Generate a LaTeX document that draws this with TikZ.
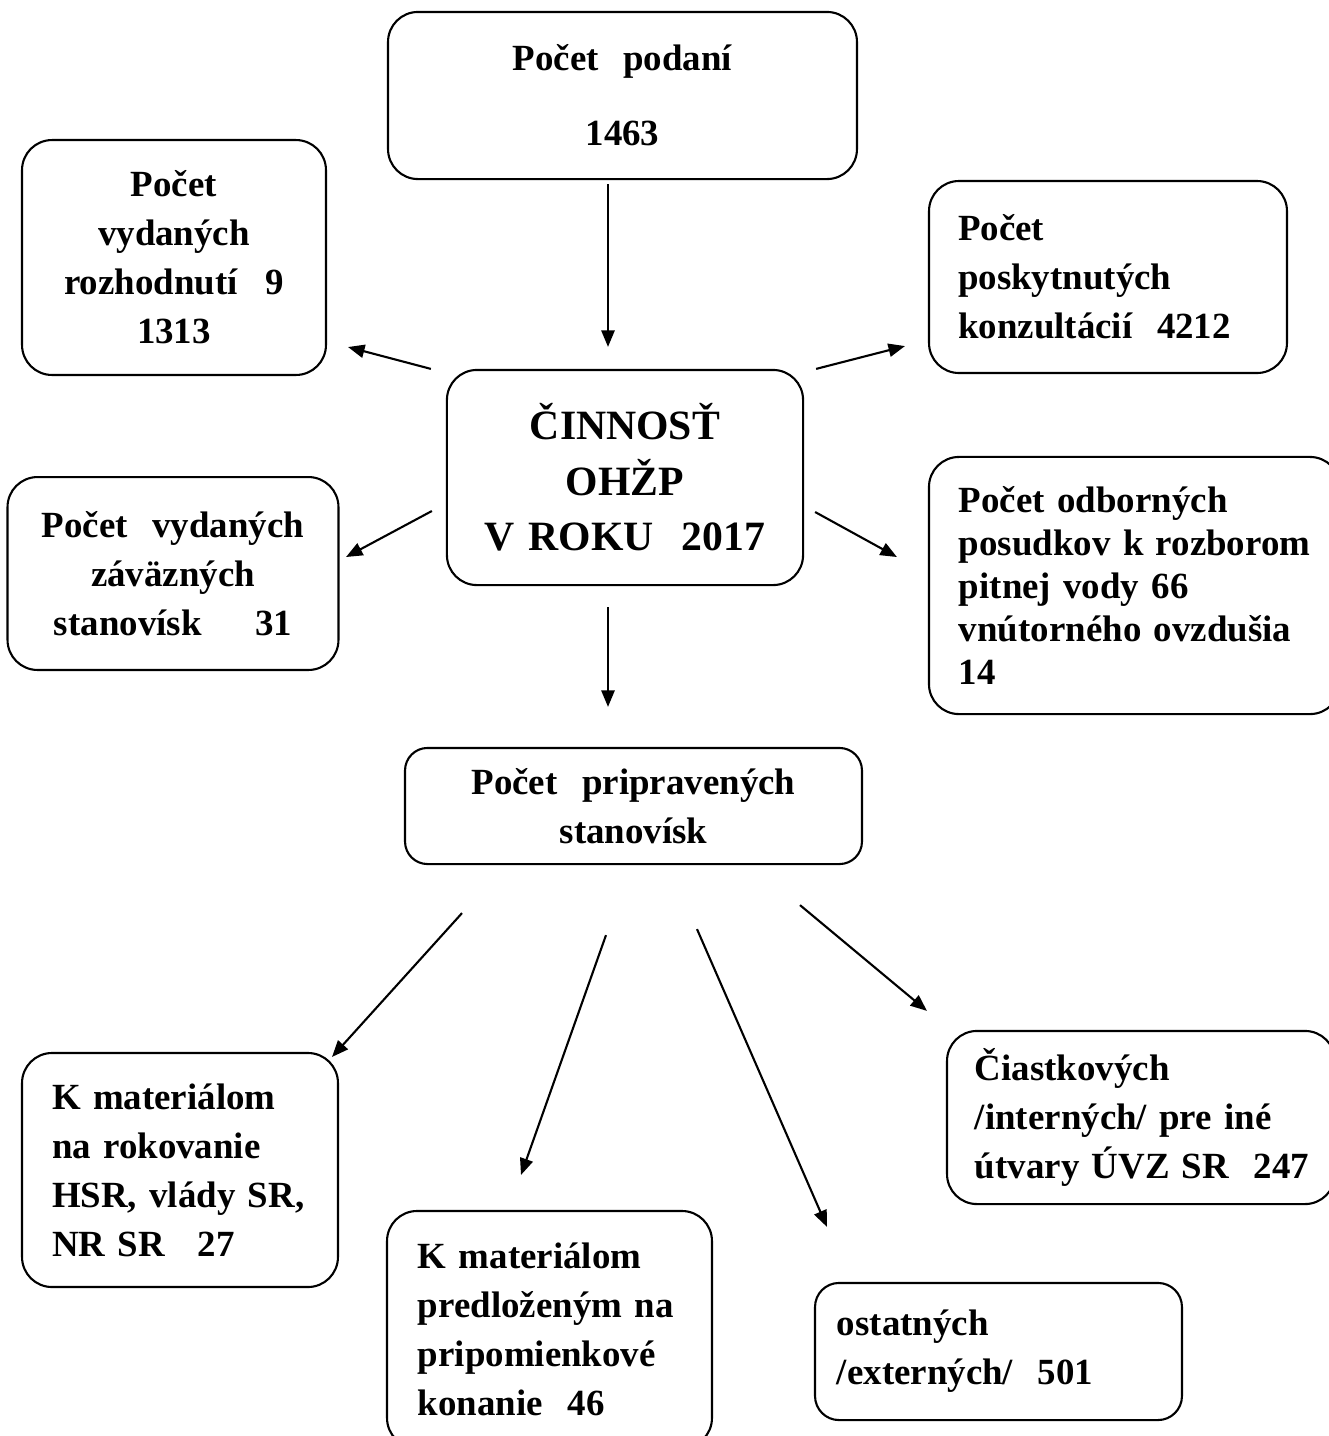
\documentclass[tikz,border=0pt]{standalone}
\usepackage{fontspec}
\setmainfont{Liberation Serif}
\usetikzlibrary{arrows.meta,calc}

\begin{document}
\begin{tikzpicture}[x=0.3333pt, y=-0.3333pt,
  font=\bfseries\fontsize{12.3}{16.3}\selectfont,
  box/.style={draw,line width=0.7pt,rounded corners=10pt,inner ysep=0pt,align=left},
  cbox/.style={box,align=center,inner xsep=6pt},
  arr/.style={-{Triangle[length=5.5pt,width=4.4pt]},line width=0.7pt}]

  \useasboundingbox (0,0) rectangle (1329,1436);

  \node[cbox,text width=144.3pt,minimum height=55.7pt] (podani) at (622.5,95.5)
    {Počet\ \ podaní\\[8.7pt]1463};
  \node[cbox,text width=89.3pt,minimum height=78.3pt] (rozh) at (174,257.5)
    {Počet\\vydaných\\rozhodnutí\hspace{0.75em}9\\1313};
  \node[box,text width=99.9pt,inner xsep=9.7pt,minimum height=64pt] (konz) at (1108,277)
    {Počet\\poskytnutých\\konzultácií\ \ 4212};
  \node[cbox,text width=106.7pt,minimum height=71.7pt,
        font=\bfseries\fontsize{13.9}{18.5}\selectfont] (cinnost) at (625,477.5)
    {ČINNOSŤ\\OHŽP\\V ROKU\ \ 2017};
  \node[cbox,text width=98.3pt,minimum height=64.3pt] (zav) at (173,573.5)
    {Počet\ \ vydaných\\záväzných\\stanovísk\hspace{1.45em}31};
  \node[box,text width=117pt,inner xsep=10pt,minimum height=85.7pt,
        font=\bfseries\fontsize{12.3}{14.3}\selectfont] (posudky) at (1134.5,585.5)
    {Počet odborných\\\mbox{posudkov k rozborom}\\pitnej vody 66\\vnútorného ovzdušia\\14};
  \node[cbox,text width=140.3pt,minimum height=38.7pt,rounded corners=7.5pt] (prip) at (633.5,806)
    {Počet\ \ pripravených\\stanovísk};

  \node[box,text width=85.3pt,inner xsep=10pt,minimum height=78pt] (kmat) at (180,1170)
    {K materiálom\\na rokovanie\\HSR, vlády SR,\\NR SR\hspace{0.9em}27};
  \node[box,text width=87.7pt,inner xsep=10.3pt,minimum height=79pt] (predl) at (549.5,1329.5)
    {K materiálom\\predloženým na\\pripomienkové\\konanie\ \ 46};
  \node[box,text width=107.7pt,inner xsep=7.3pt,minimum height=45.7pt,rounded corners=8pt] (ost) at (998.5,1351.5)
    {ostatných\\/externých/\ \ 501};
  \node[box,text width=110.7pt,inner xsep=9.3pt,minimum height=57.7pt] (ciast) at (1141,1117.5)
    {Čiastkových\\/interných/ pre iné\\\mbox{útvary ÚVZ SR\ \ 247}};

  \draw[arr] ($(podani.south)+(-14.5,4)$) -- ($(cinnost.north)+(-17,-22)$);
  \draw[arr] ($(cinnost.north west)+(-15,0)$) -- ($(rozh.south east)+(21,-29)$);
  \draw[arr] ($(cinnost.north east)+(12,0)$) -- ($(konz.south west)+(-23,-28)$);
  \draw[arr] ($(cinnost.west)+(-14,33.5)$) -- ($(zav.east)+(6.5,-16.5)$);
  \draw[arr] ($(cinnost.east)+(11,34.5)$) -- ($(posudky.west)+(-31,-28.5)$);
  \draw[arr] ($(cinnost.south)+(-17,21)$) -- ($(prip.north)+(-25.5,-40)$);

  \draw[arr] ($(prip.south)+(-171.5,48)$) -- ($(kmat.north east)+(-7,5)$);
  \draw[arr] ($(prip.south)+(-27.5,70)$) -- ($(predl.north)+(-28.5,-35)$);
  \draw[arr] ($(prip.south)+(63.5,64)$) -- ($(ost.north west)+(13,-55)$);
  \draw[arr] ($(prip.south)+(166.5,40)$) -- ($(ciast.north west)+(-19,-19)$);
\end{tikzpicture}
\end{document}
